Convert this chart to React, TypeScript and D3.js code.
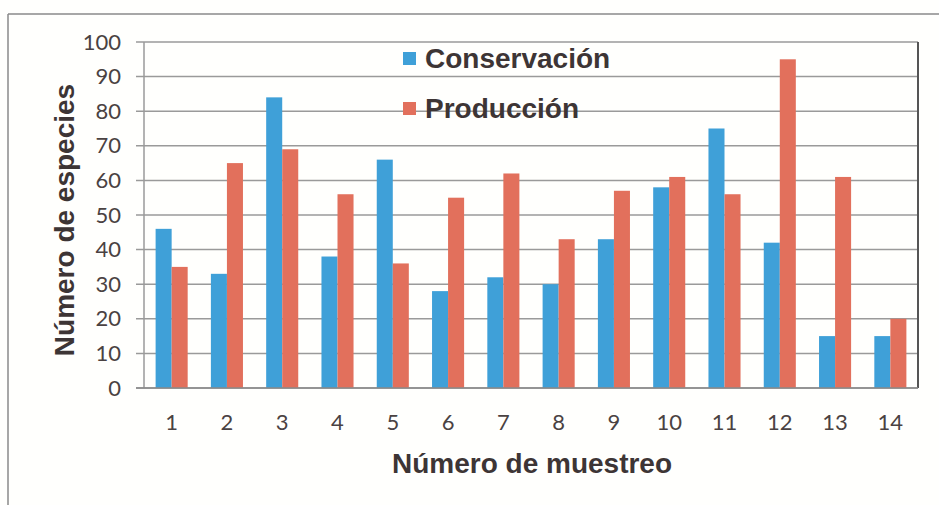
import React from "react";
import * as d3 from "d3";

const categories = ["1","2","3","4","5","6","7","8","9","10","11","12","13","14"];
const conservacion = [46, 33, 84, 38, 66, 28, 32, 30, 43, 58, 75, 42, 15, 15];
const produccion = [35, 65, 69, 56, 36, 55, 62, 43, 57, 61, 56, 95, 61, 20];
const seriesNames = ["Conservación", "Producción"];
const yTicks = [0, 10, 20, 30, 40, 50, 60, 70, 80, 90, 100];

const W = 939, H = 505;
const left = 144, right = 918, top = 42, bottom = 388;
const colors = ["#3fa0d8", "#e2705c"];

export default function App() {
  const x = d3.scaleBand<string>().domain(categories).range([left, right]).paddingInner(0.42).paddingOuter(0.21);
  const inner = d3.scaleBand<number>().domain([0, 1]).range([0, x.bandwidth()]);
  const y = d3.scaleLinear().domain([0, 100]).range([bottom, top]);
  const series = [conservacion, produccion];
  const titleFont = "'Liberation Sans', Arial, sans-serif";
  const tickFont = "Lato, 'Open Sans', sans-serif";
  return (
    <svg width={W} height={H} style={{ position: "absolute", left: 0, top: 0, background: "#fffffd" }}>
      <rect x={0} y={0} width={W} height={H} fill="#fffffd" />
      <line x1={8} y1={14} x2={W} y2={14} stroke="#8a8a8a" strokeWidth={1.5} />
      <line x1={8} y1={14} x2={8} y2={H} stroke="#8a8a8a" strokeWidth={1.5} />
      {yTicks.map((t) => (
        <g key={t}>
          <line x1={left - 8} x2={right} y1={y(t)} y2={y(t)} stroke="#9a9a9a" strokeWidth={1.5} />
          <text x={121} y={y(t) + 7.5} textAnchor="end" fontFamily={tickFont} fontSize={22} fill="#4a4242">{t}</text>
        </g>
      ))}
      <line x1={left} x2={left} y1={top} y2={bottom} stroke="#9a9a9a" strokeWidth={1.5} />
      <line x1={right} x2={right} y1={top} y2={bottom} stroke="#555" strokeWidth={2} />
      {series.map((vals, si) =>
        vals.map((v, i) => (
          <rect key={si + "-" + i} x={(x(categories[i]) as number) + (inner(si) as number)} y={y(v)} width={inner.bandwidth()} height={bottom - y(v)} fill={colors[si]} />
        ))
      )}
      <line x1={left - 8} x2={right} y1={bottom} y2={bottom} stroke="#8a8a8a" strokeWidth={1.5} />
      {categories.map((c) => (
        <text key={c} x={(x(c) as number) + x.bandwidth() / 2} y={430} textAnchor="middle" fontFamily={tickFont} fontSize={22} fill="#4a4242">{c}</text>
      ))}
      <text x={532} y={473} textAnchor="middle" fontFamily={titleFont} fontWeight="bold" fontSize={28} fill="#3d3535">Número de muestreo</text>
      <text transform={`translate(74,220) rotate(-90)`} textAnchor="middle" fontFamily={titleFont} fontWeight="bold" fontSize={28} fill="#3d3535">Número de especies</text>
      {seriesNames.map((n, i) => (
        <g key={n}>
          <rect x={403} y={52 + i * 50} width={13} height={13} fill={colors[i]} />
          <text x={425} y={68 + i * 50} fontFamily={titleFont} fontWeight="bold" fontSize={28} fill="#3d3535">{n}</text>
        </g>
      ))}
    </svg>
  );
}
